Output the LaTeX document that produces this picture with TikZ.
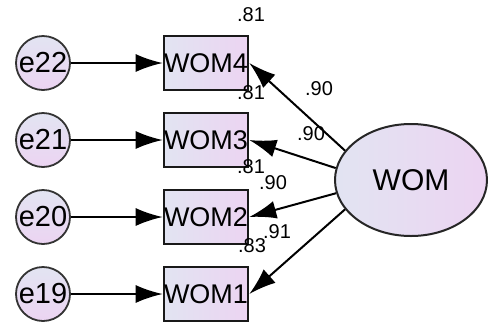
\documentclass[tikz,border=0pt]{standalone}
\usepackage{fontspec}
\setmainfont{Liberation Sans}
\usetikzlibrary{arrows.meta,shapes.geometric}
\definecolor{lav}{RGB}{226,228,242}
\definecolor{pnk}{RGB}{236,212,242}

\begin{document}
\begin{tikzpicture}[x=1pt,y=-1pt
	,err/.style={circle, draw=black!80, line width=1.8pt, minimum size=54pt, inner sep=0pt, top color=lav, bottom color=pnk, font=\fontsize{29}{29}\selectfont}
	,ob/.style={rectangle, draw=black!90, line width=2.6pt, minimum width=82pt, minimum height=54pt, inner sep=0pt, left color=lav, right color=pnk, font=\fontsize{27}{27}\selectfont}
	,lat/.style={ellipse, draw=black!85, line width=2pt, minimum width=152pt, minimum height=112pt, inner sep=0pt, left color=lav, right color=pnk, font=\fontsize{30}{30}\selectfont}
	,num/.style={inner sep=0pt, font=\fontsize{20}{20}\selectfont}
	,ar/.style={-{Latex[length=27pt,width=18pt]}, line width=2pt}
]
	\useasboundingbox (0,0) rectangle (488,325);
	% latent variable
	\node [lat] (wom) at (411,180) {WOM};
	% indicators and their errors
	\node [ob] (w4) at (206,63) {WOM4};
	\node [ob] (w3) at (206,140) {WOM3};
	\node [ob] (w2) at (206,217) {WOM2};
	\node [ob] (w1) at (206,294) {WOM1};
	\node [err] (e22) at (43,63) {e22};
	\node [err] (e21) at (43,140) {e21};
	\node [err] (e20) at (43,217) {e20};
	\node [err] (e19) at (43,294) {e19};
	\draw [ar] (e22) -- (w4);
	\draw [ar] (e21) -- (w3);
	\draw [ar] (e20) -- (w2);
	\draw [ar] (e19) -- (w1);
	\draw [ar] (wom.156) -- (w4.east);
	\draw [ar] (wom.171) -- (w3.east);
	\draw [ar] (wom.190) -- (w2.east);
	\draw [ar] (wom.204) -- (w1.east);
	% squared multiple correlations
	\node [num] (r4) at (251,15) {.81};
	\node [num] (r3) at (251,93) {.81};
	\node [num] (r2) at (251,167) {.81};
	\node [num] (r1) at (252,246) {.83};
	% loadings
	\node [num] (l4) at (319,89) {.90};
	\node [num] (l3) at (311,134) {.90};
	\node [num] (l2) at (273,183) {.90};
	\node [num] (l1) at (277,232) {.91};
\end{tikzpicture}
\end{document}
